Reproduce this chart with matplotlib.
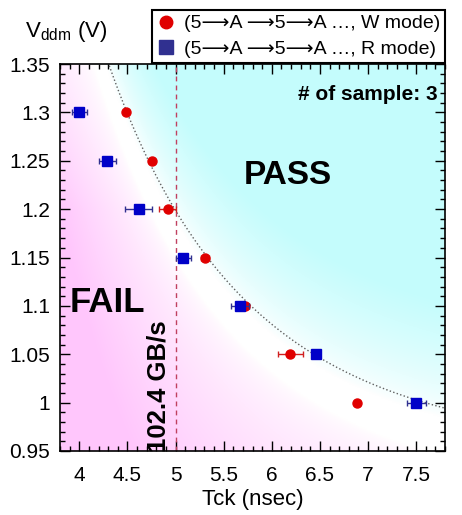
import numpy as np
import matplotlib
matplotlib.use('Agg')
import matplotlib.pyplot as plt
from matplotlib.lines import Line2D
from matplotlib.ticker import MultipleLocator

plt.rcParams['font.family'] = ['Liberation Sans', 'DejaVu Sans']

# W mode (red circles)
w_t = [4.49, 4.76, 4.92, 5.31, 5.72, 6.19, 6.89]
w_v = [1.30, 1.25, 1.20, 1.15, 1.10, 1.05, 1.00]
w_err = [0.0, 0.0, 0.09, 0.04, 0.04, 0.13, 0.0]

# R mode (blue squares)
r_t = [4.00, 4.29, 4.62, 5.08, 5.67, 6.46, 7.50]
r_v = [1.30, 1.25, 1.20, 1.15, 1.10, 1.05, 1.00]
r_err = [0.08, 0.09, 0.14, 0.08, 0.09, 0.0, 0.10]

# points
curve_t = [4.30, 4.73, 5.00, 5.73, 6.66, 7.80]
curve_v = [1.350, 1.254, 1.196, 1.099, 1.044, 0.992]

xticks = [4, 4.5, 5, 5.5, 6, 6.5, 7, 7.5]
yticks = [0.95, 1, 1.05, 1.1, 1.15, 1.2, 1.25, 1.3, 1.35]
ytick_labels = ['0.95', '1', '1.05', '1.1', '1.15', '1.2', '1.25', '1.3', '1.35']

fig = plt.figure(figsize=(4.62, 5.15), dpi=100)
ax = fig.add_axes([60/462, 64/515, 385/462, 387/515])
ax.set_xlim(3.8, 7.8)
ax.set_ylim(0.95, 1.35)

# smooth boundary through the read points (quadratic in 1/T)
coef = np.polyfit(1/np.array(curve_t), curve_v, 2)
f = lambda t: np.polyval(coef, 1/t)

# background gradient: pink below boundary, cyan above
gx = np.linspace(3.8, 7.8, 300)
gy = np.linspace(0.95, 1.35, 300)
GX, GY = np.meshgrid(gx, gy)
d = GY - f(GX)
wp = np.clip((-d - 0.05)/0.28, 0, 1) ** 0.6
wp = wp * (1 - 0.45*np.clip((GY - 1.2)/0.15, 0, 1))
wc = np.clip((d + 0.01)/0.12, 0, 1) ** 0.7
pink = np.array([1.0, 0.78, 0.99])
cyan = np.array([0.77, 0.99, 0.99])
white = np.array([1.0, 1.0, 1.0])
img = white + wp[..., None]*(pink - white) + wc[..., None]*(cyan - white)
ax.imshow(img, extent=[3.8, 7.8, 0.95, 1.35], origin='lower', aspect='auto', zorder=0)

tt = np.linspace(4.25, 7.9, 200)
ax.plot(tt, f(tt), ls=':', color='#606060', lw=1.0, zorder=2)

ax.axvline(5.0, color='#c04060', ls=(0, (3.5, 3)), lw=1.0, zorder=2)

ax.errorbar(r_t, r_v, xerr=r_err, fmt='s', color='#0000c8', ms=7, ecolor='#303090',
            elinewidth=1, capsize=2.5, zorder=4)
ax.errorbar(w_t, w_v, xerr=w_err, fmt='o', color='#e00000', ms=6.5, ecolor='#d02020',
            elinewidth=1, capsize=2.5, zorder=3)

ax.set_xticks(xticks)
ax.set_xticklabels([str(x) for x in xticks])
ax.set_yticks(yticks)
ax.set_yticklabels(ytick_labels)
ax.xaxis.set_minor_locator(MultipleLocator(0.1))
ax.yaxis.set_minor_locator(MultipleLocator(0.01))
ax.tick_params(which='both', direction='in', top=True, right=True, width=1)
ax.tick_params(which='major', length=7, labelsize=15)
ax.tick_params(axis='x', which='major', pad=11)
ax.tick_params(axis='y', which='major', pad=7)
ax.tick_params(which='minor', length=3.5)
for s in ax.spines.values():
    s.set_linewidth(1.2)

ax.set_xlabel('Tck (nsec)', fontsize=16, labelpad=3)
fig.text(25/462, 1 - 31/515, r'V$_{\mathregular{ddm}}$ (V)', fontsize=16, va='center', ha='left')

ax.text(6.17, 1.235, 'PASS', fontsize=24, fontweight='bold', ha='center', va='center', zorder=5)
ax.text(4.29, 1.104, 'FAIL', fontsize=25, fontweight='bold', ha='center', va='center', zorder=5)
ax.text(4.82, 1.017, '102.4 GB/s', fontsize=18.5, fontweight='bold', rotation=90,
        ha='center', va='center', zorder=5, clip_on=False)
ax.text(7.72, 1.318, '# of sample: 3', fontsize=15, fontweight='bold', ha='right', va='center', zorder=5)

handles = [Line2D([], [], ls='none', marker='o', color='#e00000', ms=9),
           Line2D([], [], ls='none', marker='s', color='#303090', ms=10)]
labels = ['(5\u27f6A \u27f65\u27f6A \u2026, W mode)', '(5\u27f6A \u27f65\u27f6A \u2026, R mode)']
leg = ax.legend(handles, labels, loc='upper right', bbox_to_anchor=(445/462, 1 - 10/515),
                bbox_transform=fig.transFigure, fontsize=14, frameon=True, fancybox=False,
                edgecolor='black', framealpha=1, borderpad=0.25, labelspacing=0.4,
                handletextpad=0.4, handlelength=1.0, borderaxespad=0)
leg.get_frame().set_linewidth(1.5)
leg.set_zorder(10)

fig.savefig('out.png', dpi=100)
